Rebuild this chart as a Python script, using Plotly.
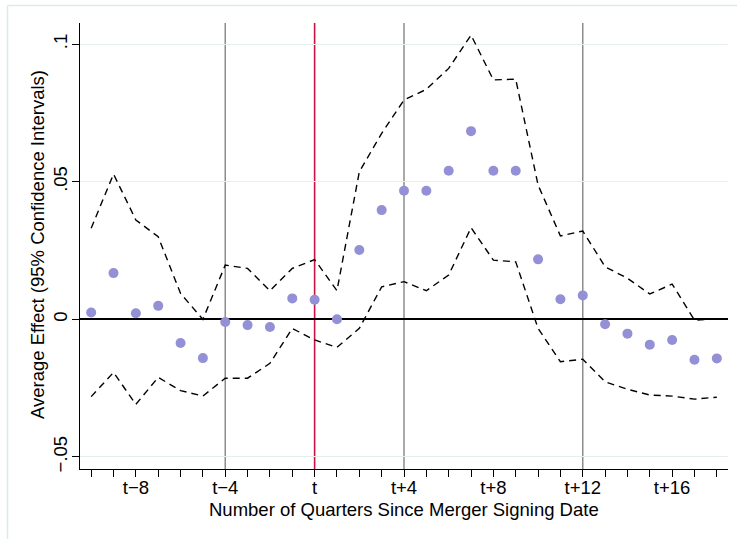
import plotly.graph_objects as go

# Event-time quarters relative to the merger signing date
quarters = list(range(-10, 19))

# Point estimates of the average effect
effect = [0.0025, 0.0168, 0.0022, 0.0049, -0.0086, -0.0141, -0.0010, -0.0021,
          -0.0028, 0.0076, 0.0071, 0.0000, 0.0252, 0.0397, 0.0467, 0.0467,
          0.0540, 0.0684, 0.0540, 0.0540, 0.0218, 0.0073, 0.0087, -0.0018,
          -0.0052, -0.0092, -0.0075, -0.0147, -0.0142]

# 95% confidence bounds
upper = [0.0331, 0.0528, 0.0361, 0.0300, 0.0094, 0.0000, 0.0197, 0.0185,
         0.0104, 0.0185, 0.0217, 0.0104, 0.0536, 0.0676, 0.0797, 0.0836,
         0.0912, 0.1033, 0.0870, 0.0873, 0.0488, 0.0303, 0.0321, 0.0191,
         0.0149, 0.0092, 0.0128, -0.0003, 0.0001]
lower = [-0.0281, -0.0193, -0.0309, -0.0211, -0.0259, -0.0279, -0.0214, -0.0214,
         -0.0160, -0.0033, -0.0075, -0.0102, -0.0033, 0.0118, 0.0137, 0.0104,
         0.0161, 0.0333, 0.0215, 0.0209, -0.0033, -0.0154, -0.0145, -0.0227,
         -0.0254, -0.0275, -0.0279, -0.0290, -0.0283]

# Axis labelling
x_tick_vals = [-8, -4, 0, 4, 8, 12, 16]
x_tick_text = ["t\u22128", "t\u22124", "t", "t+4", "t+8", "t+12", "t+16"]
y_tick_vals = [-0.05, 0, 0.05, 0.1]
y_tick_text = ["\u2212.05", "0", ".05", ".1"]
x_title = "Number of Quarters Since Merger Signing Date"
y_title = "Average Effect (95% Confidence Intervals)"

# Reference quarters marked with vertical rules
gray_marks = [-4, 4, 12]
signing_mark = 0

FONT = "Liberation Sans, Arial, Helvetica, sans-serif"
FS = 18.5

L, R, T, B = 80, 9, 23, 70
W, H = 737, 539
pw, ph = W - L - R, H - T - B

fig = go.Figure()

dash_line = dict(color="black", width=1.4, dash="7px,5px")
fig.add_trace(go.Scatter(x=quarters, y=upper, mode="lines", line=dash_line,
                         showlegend=False, hoverinfo="skip"))
fig.add_trace(go.Scatter(x=quarters, y=lower, mode="lines", line=dash_line,
                         showlegend=False, hoverinfo="skip"))
fig.add_trace(go.Scatter(x=quarters, y=effect, mode="markers",
                         marker=dict(color="#9490d6", size=10,
                                     line=dict(width=0)),
                         showlegend=False))

for q in gray_marks:
    fig.add_shape(type="line", x0=q, x1=q, y0=0, y1=1, xref="x", yref="paper",
                  line=dict(color="#8c8c8c", width=1.5), layer="below")
fig.add_shape(type="line", x0=signing_mark, x1=signing_mark, y0=0, y1=1,
              xref="x", yref="paper",
              line=dict(color="#cc1144", width=1.6), layer="below")

# Faint outer frame (top and left edges)
fx0 = (7.5 - L) / pw
fy0 = 1 + (T - 5.5) / ph
fig.add_shape(type="line", xref="paper", yref="paper",
              x0=fx0, x1=(W - L) / pw + 0.01, y0=fy0, y1=fy0,
              line=dict(color="#e0e9e9", width=1.5))
fig.add_shape(type="line", xref="paper", yref="paper",
              x0=fx0, x1=fx0, y0=fy0, y1=-(B + 5) / ph,
              line=dict(color="#e0e9e9", width=1.5))

# Axis titles placed as annotations for precise positioning
fig.add_annotation(text=x_title, xref="paper", yref="paper",
                   x=0.5, y=-(509.5 - (H - B)) / ph,
                   xanchor="center", yanchor="middle", showarrow=False,
                   font=dict(size=FS))
fig.add_annotation(text=y_title, xref="paper", yref="paper",
                   x=(37 - L) / pw, y=(H - B - 245) / ph,
                   xanchor="center", yanchor="middle", textangle=-90,
                   showarrow=False, font=dict(size=FS))

fig.update_layout(
    width=W, height=H,
    margin=dict(l=L, r=R, t=T, b=B),
    paper_bgcolor="white", plot_bgcolor="white",
    font=dict(family=FONT, size=FS, color="black"),
    xaxis=dict(
        range=[-10.5, 18.5],
        tickmode="array", tickvals=x_tick_vals, ticktext=x_tick_text,
        ticks="outside", ticklen=7, tickwidth=1.2, tickcolor="black",
        minor=dict(dtick=1, tick0=0, ticks="outside", ticklen=7,
                   tickwidth=1.2, tickcolor="black", showgrid=False),
        showgrid=False, zeroline=False,
        showline=True, linecolor="black", linewidth=1.3,
        ticklabelstandoff=-5,
        tickfont=dict(size=FS),
    ),
    yaxis=dict(
        range=[-0.0544, 0.1077],
        tickmode="array", tickvals=y_tick_vals, ticktext=y_tick_text,
        tickangle=-90,
        ticks="outside", ticklen=7, tickwidth=1.2, tickcolor="black",
        showgrid=True, gridcolor="#e6eeee", gridwidth=1.3,
        zeroline=True, zerolinecolor="black", zerolinewidth=1.5,
        showline=True, linecolor="black", linewidth=1.3,
        ticklabelstandoff=-3,
        tickfont=dict(size=FS),
    ),
)

fig.write_html("out.html")
